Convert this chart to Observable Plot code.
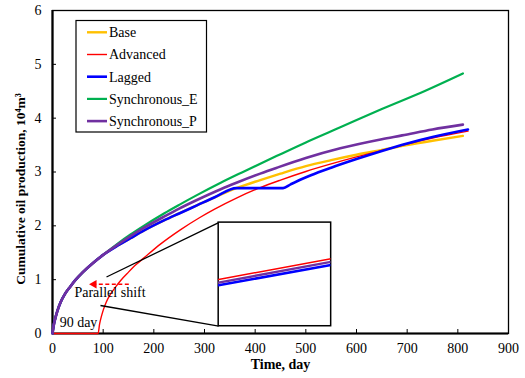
<!DOCTYPE html>
<html><head><meta charset="utf-8">
<script src="https://cdn.jsdelivr.net/npm/d3@7"></script>
<script src="https://cdn.jsdelivr.net/npm/@observablehq/plot@0.6"></script>
<style>
body{margin:0;background:#fff;}
#chart{position:relative;width:525px;height:378px;font-family:'Liberation Serif','Times New Roman','DejaVu Serif',serif;}
#chart svg{position:absolute;left:0;top:0;overflow:visible;}
#chart svg text{font-family:'Liberation Serif','Times New Roman','DejaVu Serif',serif !important;}
</style></head><body><div id="chart"></div>
<script>
// ---- data ----
const seriesNames = ["Base", "Advanced", "Lagged", "Synchronous_E", "Synchronous_P"];
const seriesColors = ["#FFC000", "#FF0000", "#0000FF", "#00B050", "#7030A0"];

const earlyDays   = [0, 3, 6, 10, 16, 25, 35, 45, 60, 80, 100];
const earlyValues = [0, 0.18, 0.30, 0.43, 0.58, 0.74, 0.87, 0.99, 1.14, 1.31, 1.46];

const baseDays   = [130, 154, 180, 220, 250, 285, 320, 363, 410, 450, 500, 550, 600, 650, 700, 750, 810];
const baseValues = [1.64, 1.77, 1.91, 2.10, 2.23, 2.38, 2.53, 2.70, 2.85, 2.97, 3.11, 3.22, 3.32, 3.41, 3.50, 3.58, 3.67];

const laggedDays   = [130, 154, 180, 220, 250, 285, 320, 363, 455, 470, 490, 510, 550, 600, 650, 700, 750, 820];
const laggedValues = [1.64, 1.77, 1.91, 2.10, 2.23, 2.38, 2.53, 2.70, 2.70, 2.77, 2.86, 2.94, 3.08, 3.24, 3.39, 3.53, 3.65, 3.79];

const syncEDays   = [130, 154, 180, 220, 250, 285, 332, 378, 443, 500, 568, 650, 736, 810];
const syncEValues = [1.68, 1.84, 2.00, 2.23, 2.39, 2.57, 2.80, 3.01, 3.30, 3.55, 3.83, 4.17, 4.51, 4.83];

const syncPDays   = [130, 154, 180, 220, 250, 285, 332, 363, 410, 443, 500, 568, 650, 690, 750, 810];
const syncPValues = [1.66, 1.81, 1.96, 2.17, 2.32, 2.48, 2.68, 2.80, 2.97, 3.08, 3.26, 3.44, 3.61, 3.68, 3.79, 3.88];

const advDays   = [0, 90, 93, 96, 100, 106, 115, 125, 135, 150, 165, 180, 213, 253, 290, 320, 364, 410, 450, 500, 550, 600, 650, 700, 750, 820];
const advValues = [0, 0, 0.18, 0.30, 0.43, 0.58, 0.74, 0.87, 0.99, 1.14, 1.28, 1.40, 1.66, 1.93, 2.15, 2.31, 2.52, 2.71, 2.85, 3.01, 3.15, 3.28, 3.40, 3.52, 3.63, 3.76];

const xTicks = [0, 100, 200, 300, 400, 500, 600, 700, 800, 900];
const yTicks = [0, 1, 2, 3, 4, 5, 6];

// inset (zoom window) – box in main-chart data units, and its own content
const insetBoxDays = [328, 550];
const insetBoxValues = [0.135, 2.06];
const insetT = [0, 1];
const insetAdvanced = [0.45, 0.65];
const insetSyncP = [0.42, 0.62];
const insetLagged = [0.395, 0.59];

// connector lines from annotation to inset box
const connectors = [
  {x1: 106.6, y1: 1.05, x2: 328, y2: 2.06},
  {x1: 94.7, y1: 0.52, x2: 328, y2: 0.135}
];
const shiftArrow = [{x1: 150.6, x2: 84, y: 0.915}];
const shiftArrowHead = [{x: 82, y: 0.915}];
const notes = [
  {day: 113.5, value: 0.77, text: "Parallel shift"},
  {day: 51.3, value: 0.21, text: "90 day"}
];

// ---- build rows ----
function rows(name, days, values) { return days.map((d, i) => ({series: name, day: d, value: values[i]})); }
const early = (name) => rows(name, earlyDays, earlyValues);
const data = {
  "Base": early("Base").concat(rows("Base", baseDays, baseValues)),
  "Advanced": rows("Advanced", advDays, advValues),
  "Lagged": early("Lagged").concat(rows("Lagged", laggedDays, laggedValues)),
  "Synchronous_E": early("Synchronous_E").concat(rows("Synchronous_E", syncEDays, syncEValues)),
  "Synchronous_P": early("Synchronous_P").concat(rows("Synchronous_P", syncPDays, syncPValues))
};
const color = Object.fromEntries(seriesNames.map((n, i) => [n, seriesColors[i]]));
const widths = {"Base": 2.4, "Advanced": 1.4, "Lagged": 2.6, "Synchronous_E": 2.2, "Synchronous_P": 2.6};
const drawOrder = ["Base", "Advanced", "Synchronous_E", "Lagged", "Synchronous_P"];

const font = "'Liberation Serif','Times New Roman','DejaVu Serif',serif";
const main = Plot.plot({
  width: 525, height: 378,
  marginLeft: 52, marginRight: 17, marginTop: 10, marginBottom: 45,
  style: {fontFamily: font, fontSize: "14px", background: "transparent", color: "black"},
  x: {domain: [0, 900], label: null},
  y: {domain: [0, 6], label: null},
  marks: [
    Plot.frame({stroke: "black", strokeWidth: 1.3}),
    Plot.axisX({ticks: xTicks, tickFormat: "d", tickSize: -4, tickPadding: 14, fontSize: 14, label: null}),
    Plot.axisY({ticks: yTicks, tickFormat: "d", tickSize: -4, tickPadding: 15, fontSize: 14, label: null}),
    Plot.ruleX([0], {strokeWidth: 2.2}),
    Plot.ruleY([0], {strokeWidth: 2.2}),
    ...drawOrder.map(n => Plot.line(data[n], {x: "day", y: "value", stroke: color[n], strokeWidth: widths[n], curve: "monotone-x"})),
    Plot.link(connectors, {x1: "x1", y1: "y1", x2: "x2", y2: "y2", stroke: "black", strokeWidth: 1.3}),
    Plot.rect([{}], {x1: insetBoxDays[0], x2: insetBoxDays[1], y1: insetBoxValues[0], y2: insetBoxValues[1], fill: "white", stroke: "black", strokeWidth: 1.5}),
    Plot.link(shiftArrow, {x1: "x1", x2: "x2", y1: "y", y2: "y", stroke: "#FF0000", strokeWidth: 1.4, strokeDasharray: "4,2.5"}),
    Plot.dot(shiftArrowHead, {x: "x", y: "y", symbol: "triangle", r: 3.2, fill: "#FF0000", stroke: "none", rotate: -90}),
    Plot.text(notes, {x: "day", y: "value", text: "text", fontSize: 14, fill: "black"}),
    Plot.text(["Time, day"], {frameAnchor: "bottom", dy: 31, textAnchor: "middle", lineAnchor: "middle", fontWeight: "bold", fontSize: 14}),
    Plot.text(["Cumulative oil production, 10\u2074m\u00B3"], {frameAnchor: "left", dx: -32, dy: 17, textAnchor: "middle", lineAnchor: "middle", rotate: -90, fontWeight: "bold", fontSize: 13.5})
  ]
});
const chart = document.getElementById("chart");
chart.appendChild(main);

// ---- inset content, placed over the box using the main scales ----
const sx = main.scale("x"), sy = main.scale("y");
const L = sx.apply(insetBoxDays[0]), R = sx.apply(insetBoxDays[1]);
const T = sy.apply(insetBoxValues[1]), B = sy.apply(insetBoxValues[0]);
const insetRows = (name, vals) => insetT.map((t, i) => ({series: name, t, v: vals[i]}));
const inset = Plot.plot({
  width: R - L, height: B - T, margin: 0,
  style: {background: "transparent"},
  x: {domain: [0, 1], axis: null},
  y: {domain: [0, 1], axis: null},
  marks: [
    Plot.line(insetRows("Lagged", insetLagged), {x: "t", y: "v", stroke: color["Lagged"], strokeWidth: 2.6, clip: true}),
    Plot.line(insetRows("Synchronous_P", insetSyncP), {x: "t", y: "v", stroke: color["Synchronous_P"], strokeWidth: 2.4, clip: true}),
    Plot.line(insetRows("Advanced", insetAdvanced), {x: "t", y: "v", stroke: color["Advanced"], strokeWidth: 1.4, clip: true})
  ]
});
inset.style.left = L + "px";
inset.style.top = T + "px";
chart.appendChild(inset);

// ---- legend ----
const lg = d3.create("svg").attr("width", 140).attr("height", 120)
  .style("left", "75px").style("top", "20px");
lg.append("rect").attr("x", 1).attr("y", 0.5).attr("width", 130.5).attr("height", 111.5)
  .attr("fill", "white").attr("stroke", "black").attr("stroke-width", 1.2);
seriesNames.forEach((n, i) => {
  const y = 12.3 + i * 22.2;
  lg.append("line").attr("x1", 12).attr("x2", 32).attr("y1", y).attr("y2", y)
    .attr("stroke", color[n]).attr("stroke-width", widths[n]);
  lg.append("text").attr("x", 34).attr("y", y).attr("dy", "0.35em")
    .attr("font-family", font).attr("font-size", 14).text(n);
});
chart.appendChild(lg.node());
</script></body></html>
